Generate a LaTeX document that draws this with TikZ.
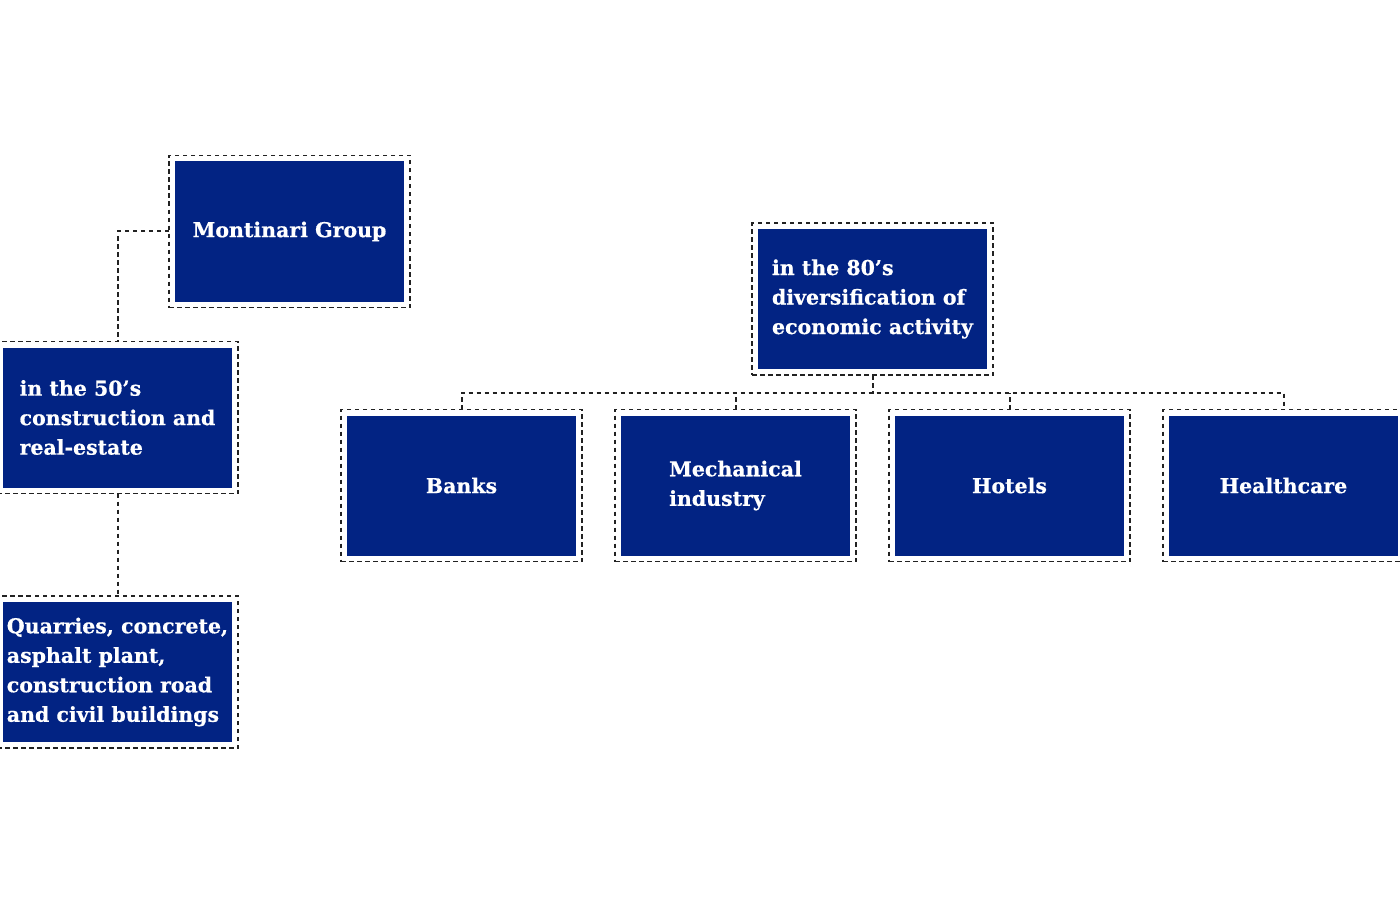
\documentclass[tikz,border=0pt]{standalone}
\usepackage{fontspec}
\setmainfont{DejaVu Serif}[BoldFeatures={FakeBold=0.6}]
\usetikzlibrary{fit}
\definecolor{navy}{HTML}{022383}
\definecolor{dashcol}{HTML}{222222}
\tikzset{
  unitbox/.style={fill=navy, draw=none, text=white, outer sep=0pt,
    minimum width=229pt, minimum height=140pt, inner sep=0pt,
    align=left, font=\bfseries\fontsize{20.5}{29.5}\selectfont},
  dashbox/.style={draw=dashcol, line width=1.25pt, dash pattern=on 4.5pt off 3.5pt,
    inner sep=6pt, outer sep=0pt},
  conn/.style={draw=dashcol, line width=2pt, dash pattern=on 4.5pt off 3.5pt}
}
\begin{document}
\begin{tikzpicture}[x=1pt,y=-1pt]
\useasboundingbox (0,0) rectangle (1400,904);
% inner filled boxes
\node[unitbox] (mg) at (289.5,231.5) {Montinari Group};
\node[unitbox] (r50) at (117.5,417.5) {in the 50’s\\construction and\\real-estate};
\node[unitbox] (qu) at (117.5,672) {Quarries, concrete,\\asphalt plant,\\construction road\\and civil buildings};
\node[unitbox] (r80) at (872.5,299) {in the 80’s\\diversification of\\economic activity};
\node[unitbox] (bk) at (461.5,485.5) {Banks};
\node[unitbox] (me) at (735.5,485.5) {Mechanical\\industry};
\node[unitbox] (ho) at (1009.5,485.5) {Hotels};
\node[unitbox] (he) at (1283.5,485.5) {Healthcare};
% dashed frames
\node[dashbox, fit=(mg)] (mgo) {};
\node[dashbox, fit=(r50)] (r50o) {};
\node[dashbox, fit=(qu)] (quo) {};
\node[dashbox, fit=(r80)] (r80o) {};
\node[dashbox, fit=(bk)] (bko) {};
\node[dashbox, fit=(me)] (meo) {};
\node[dashbox, fit=(ho)] (hoo) {};
\node[dashbox, fit=(he)] (heo) {};
% connectors
\draw[conn] (mgo.west) -| (r50o.north);
\draw[conn] (r50o.south) -- (quo.north);
\coordinate (bus) at (872.5,392.5);
\draw[conn] (r80o.south) -- (bus);
\draw[conn] (bko.north) |- (bus) -| (heo.north);
\draw[conn] (meo.north) -- (meo.north |- bus);
\draw[conn] (hoo.north) -- (hoo.north |- bus);
\end{tikzpicture}
\end{document}
